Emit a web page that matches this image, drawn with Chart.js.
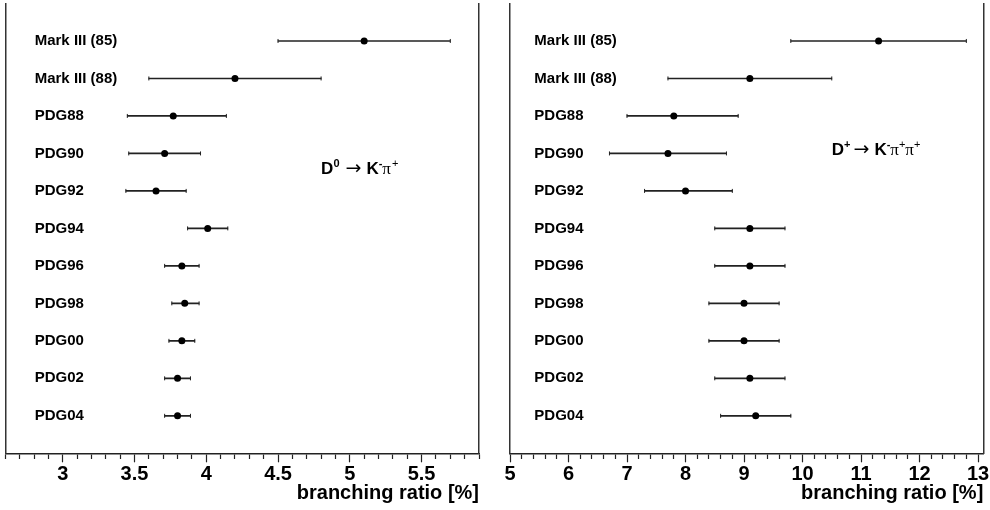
<!DOCTYPE html>
<html>
<head>
<meta charset="utf-8">
<script src="https://cdn.jsdelivr.net/npm/chart.js@4.4.1/dist/chart.umd.min.js"></script>
<style>
  html, body { margin: 0; padding: 0; background: #fff; }
  .panel { position: absolute; top: 0; width: 495px; height: 510px; }
  #left { left: 0; }
  #right { left: 495px; }
</style>
</head>
<body>
<div class="panel" id="left"><canvas id="chartD0"></canvas></div>
<div class="panel" id="right"><canvas id="chartDp"></canvas></div>
<script>
const categories = ['Mark III (85)', 'Mark III (88)', 'PDG88', 'PDG90', 'PDG92', 'PDG94',
                    'PDG96', 'PDG98', 'PDG00', 'PDG02', 'PDG04'];

// D0 -> K- pi+  (branching ratio in %)
const d0Values  = [5.1, 4.2, 3.77, 3.71, 3.65, 4.01, 3.83, 3.85, 3.83, 3.80, 3.80];
const d0ErrLow  = [0.6, 0.6, 0.32, 0.25, 0.21, 0.14, 0.12, 0.09, 0.09, 0.09, 0.09];
const d0ErrHigh = [0.6, 0.6, 0.37, 0.25, 0.21, 0.14, 0.12, 0.10, 0.09, 0.09, 0.09];
const d0TickLabels = [3, 3.5, 4, 4.5, 5, 5.5];

// D+ -> K- pi+ pi+
const dpValues  = [11.3, 9.1, 7.8, 7.7, 8.0, 9.1, 9.1, 9.0, 9.0, 9.1, 9.2];
const dpErrLow  = [1.5, 1.4, 0.8, 1.0, 0.7, 0.6, 0.6, 0.6, 0.6, 0.6, 0.6];
const dpErrHigh = [1.5, 1.4, 1.1, 1.0, 0.8, 0.6, 0.6, 0.6, 0.6, 0.6, 0.6];
const dpTickLabels = [5, 6, 7, 8, 9, 10, 11, 12, 13];

const SANS = "'Liberation Sans', Arial, sans-serif";
Chart.defaults.font.family = SANS;
Chart.defaults.color = '#000';

const BIG = 'bold 17px ' + SANS;
const SUP = 'bold 11px ' + SANS;
const SUP_PLAIN = '11px ' + SANS;
const ARROW = "19px 'DejaVu Sans', sans-serif";
const PI = "17px 'Liberation Serif', serif";

// reaction text written next to the points, with superscript charges
const reactionPlugin = {
    id: 'reaction',
    afterDraw(chart, args, opts) {
        const ctx = chart.ctx;
        let px = chart.scales.x.getPixelForValue(opts.x);
        const py = chart.scales.y.getPixelForValue(opts.y);
        ctx.save();
        ctx.fillStyle = '#000';
        ctx.textBaseline = 'alphabetic';
        ctx.textAlign = 'left';
        opts.parts.forEach(p => {
            ctx.font = p.font;
            ctx.fillText(p.text, px, py - (p.rise || 0));
            px += ctx.measureText(p.text).width + (p.gap || 0);
        });
        ctx.restore();
    }
};

// vertical axes only carry the frame line / mirrored labels, so they take no room
const flatAxis = scale => {
    scale.width = 0;
    scale.paddingTop = 0;
    scale.paddingBottom = 0;
};

const buildChart = (id, s) => {
    const points = s.values.map((v, i) => ({ x: v, y: i }));
    const bars = s.values.map((v, i) => ({ x: [v - s.errLow[i], v + s.errHigh[i]], y: i }));
    const caps = [];
    s.values.forEach((v, i) => {
        caps.push({ x: v - s.errLow[i], y: i });
        caps.push({ x: v + s.errHigh[i], y: i });
    });
    const isMajor = v => s.tickLabels.some(t => Math.abs(t - v) < 1e-6);

    return new Chart(document.getElementById(id), {
        type: 'scatter',
        data: {
            datasets: [
                { data: points, pointRadius: 3.5, pointHoverRadius: 3.5,
                  pointBackgroundColor: '#000', pointBorderWidth: 0 },
                { data: caps, pointStyle: 'line', pointRotation: 90, pointRadius: 2, pointHoverRadius: 2,
                  pointBorderColor: '#222', pointBorderWidth: 1 },
                { type: 'bar', indexAxis: 'y', data: bars, barThickness: 1,
                  backgroundColor: '#222', borderWidth: 0 }
            ]
        },
        options: {
            responsive: true,
            maintainAspectRatio: false,
            animation: false,
            events: [],
            layout: { padding: s.padding },
            plugins: {
                legend: { display: false },
                tooltip: { enabled: false },
                reaction: s.reaction
            },
            scales: {
                x: {
                    type: 'linear',
                    min: s.xMin,
                    max: s.xMax,
                    afterBuildTicks: scale => {
                        const ticks = [];
                        for (let k = 0; ; k++) {
                            const v = Math.round((s.tickStart + k * s.minorStep) * 100) / 100;
                            if (v > s.xMax + 1e-9) break;
                            ticks.push({ value: v });
                        }
                        scale.ticks = ticks;
                    },
                    afterFit: scale => {
                        scale.height = 56.7;
                        scale.paddingLeft = 0;
                        scale.paddingRight = 0;
                    },
                    ticks: {
                        autoSkip: false,
                        maxRotation: 0,
                        padding: 0,
                        font: { size: 20, weight: 'bold' },
                        color: '#000',
                        callback: v => isMajor(v) ? String(v) : ''
                    },
                    grid: {
                        display: true,
                        drawOnChartArea: false,
                        drawTicks: true,
                        tickLength: 9,
                        tickWidth: 1.2,
                        tickColor: '#222',
                        tickBorderDash: ctx => isMajor(ctx.tick.value) ? [] : [4.5, 40]
                    },
                    border: { display: true, color: '#222', width: 1.5 },
                    title: {
                        display: true,
                        text: 'branching ratio [%]',
                        align: 'end',
                        color: '#000',
                        font: { size: 20, weight: 'bold' },
                        padding: { top: 0, bottom: 5 }
                    }
                },
                y: {
                    type: 'linear',
                    reverse: true,
                    offset: false,
                    min: -1,
                    max: 11,
                    afterBuildTicks: scale => {
                        scale.ticks = categories.map((c, i) => ({ value: i }));
                    },
                    afterFit: flatAxis,
                    ticks: {
                        mirror: true,
                        autoSkip: false,
                        padding: s.labelPad,
                        color: '#000',
                        font: { size: 15, weight: 'bold' },
                        callback: v => categories[v] ?? ''
                    },
                    grid: { display: false, drawTicks: false, offset: false },
                    border: { display: true, color: '#333', width: 1.5 }
                },
                frameRight: {
                    type: 'linear',
                    position: 'right',
                    afterFit: flatAxis,
                    ticks: { display: false },
                    grid: { display: false, drawTicks: false },
                    border: { display: true, color: '#333', width: 1.5 }
                }
            }
        },
        plugins: [reactionPlugin]
    });
};

buildChart('chartD0', {
    values: d0Values, errLow: d0ErrLow, errHigh: d0ErrHigh, tickLabels: d0TickLabels,
    xMin: 2.6, xMax: 5.9, tickStart: 2.6, minorStep: 0.1,
    padding: { left: 5.3, right: 16, top: 0, bottom: 0 },
    labelPad: 29.4,
    reaction: {
        x: 4.8, y: 3.54,
        parts: [
            { text: 'D', font: BIG },
            { text: '0', font: SUP, rise: 7, gap: 6 },
            { text: '\u2192', font: ARROW, gap: 5 },
            { text: 'K', font: BIG },
            { text: '-', font: SUP, rise: 7 },
            { text: '\u03C0', font: PI, gap: 1 },
            { text: '+', font: SUP_PLAIN, rise: 7 }
        ]
    }
});

buildChart('chartDp', {
    values: dpValues, errLow: dpErrLow, errHigh: dpErrHigh, tickLabels: dpTickLabels,
    xMin: 5, xMax: 13.09, tickStart: 5, minorStep: 0.2,
    padding: { left: 15, right: 6.7, top: 0, bottom: 0 },
    labelPad: 24.3,
    reaction: {
        x: 10.5, y: 3.05,
        parts: [
            { text: 'D', font: BIG },
            { text: '+', font: SUP, rise: 7, gap: 3 },
            { text: '\u2192', font: ARROW, gap: 5 },
            { text: 'K', font: BIG },
            { text: '-', font: SUP, rise: 7 },
            { text: '\u03C0', font: PI },
            { text: '+', font: SUP_PLAIN, rise: 7 },
            { text: '\u03C0', font: PI },
            { text: '+', font: SUP_PLAIN, rise: 7 }
        ]
    }
});
</script>
</body>
</html>
